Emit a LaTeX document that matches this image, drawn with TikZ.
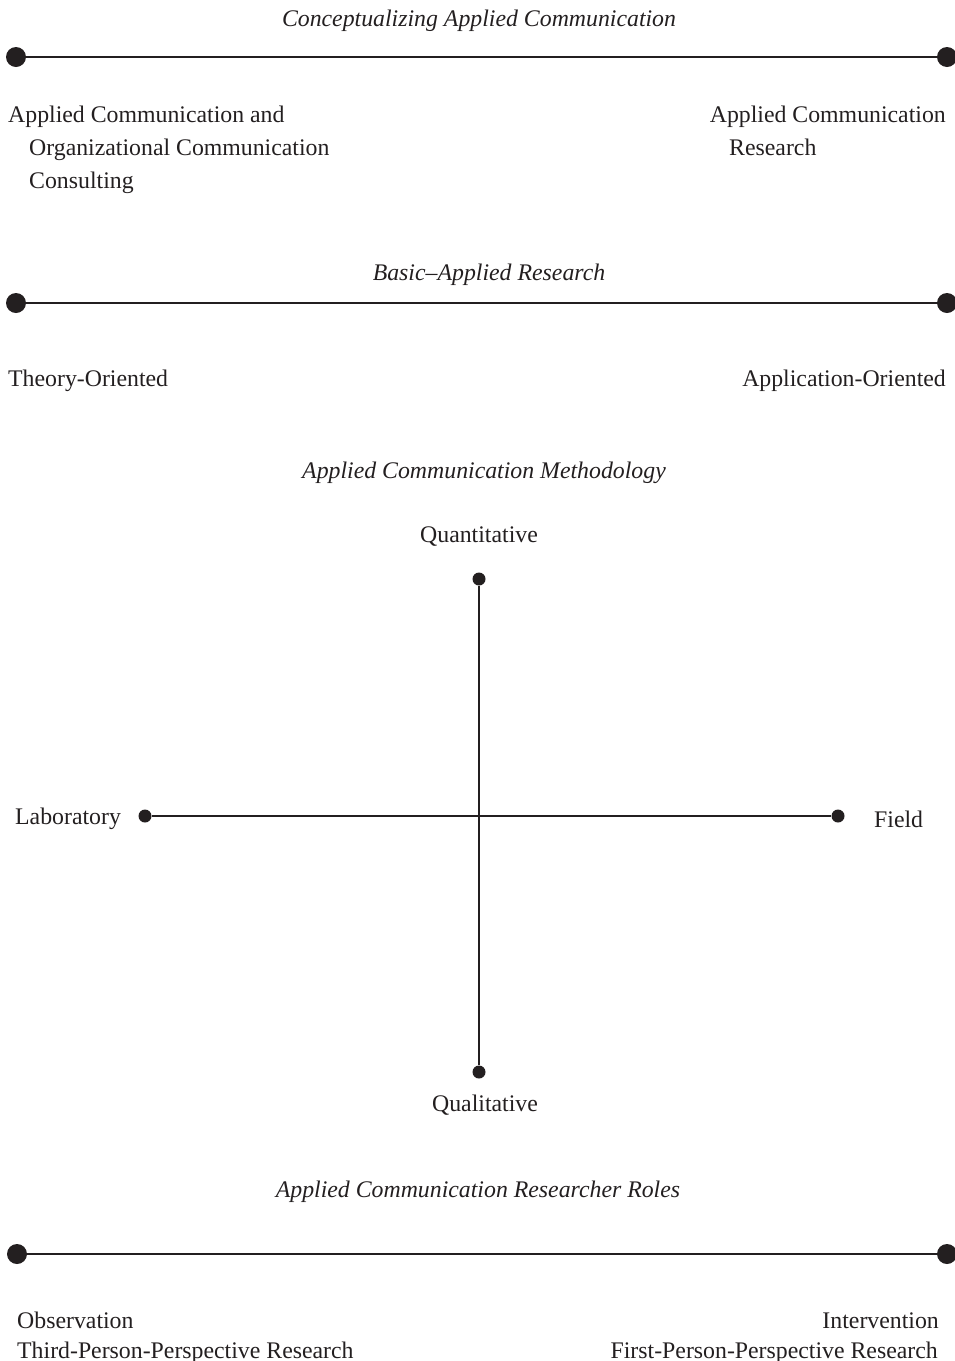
\documentclass[tikz,border=0pt]{standalone}
\usepackage{fontspec}
\setmainfont{Liberation Serif}
\definecolor{ink}{HTML}{231F20}
\begin{document}
\begin{tikzpicture}[x=1pt,y=-1pt,
  axis/.style={draw=ink,line width=2pt},
  bigdot/.style={circle,fill=ink,inner sep=0pt,minimum size=20pt},
  smalldot/.style={circle,fill=ink,inner sep=0pt,minimum size=13pt},
  lbl/.style={inner sep=0pt,text=ink,font=\fontsize{23.8}{33}\selectfont},
  heading/.style={lbl,font=\fontsize{23.8}{33}\selectfont\itshape}]
\useasboundingbox (0,0) rectangle (955,1361);

% --- Conceptualizing Applied Communication
\node[heading,anchor=base] (h1) at (479,26) {Conceptualizing Applied Communication};
\node[bigdot] (a1) at (16,57) {};
\node[bigdot] (b1) at (947,57) {};
\draw[axis] (a1) -- (b1);
\node[lbl,anchor=base west] (l1a) at (8,122) {Applied Communication and};
\node[lbl,anchor=base west] (l1b) at (29,155) {Organizational Communication};
\node[lbl,anchor=base west] (l1c) at (29,188) {Consulting};
\node[lbl,anchor=base east] (r1a) at (946,122) {Applied Communication};
\node[lbl,anchor=base west] (r1b) at (729,155) {Research};

% --- Basic-Applied Research
\node[heading,anchor=base] (h2) at (489,280) {Basic–Applied Research};
\node[bigdot] (a2) at (16,303) {};
\node[bigdot] (b2) at (947,303) {};
\draw[axis] (a2) -- (b2);
\node[lbl,anchor=base west] (l2) at (8,386) {Theory-Oriented};
\node[lbl,anchor=base east] (r2) at (946,386) {Application-Oriented};

% --- Applied Communication Methodology
\node[heading,anchor=base] (h3) at (484,478) {Applied Communication Methodology};
\node[lbl,anchor=base] (qn) at (479,542) {Quantitative};
\node[smalldot] (top) at (479,579) {};
\node[smalldot] (bot) at (479,1072) {};
\node[smalldot] (lft) at (145,816) {};
\node[smalldot] (rgt) at (838,816) {};
\draw[axis] (top) -- (bot);
\draw[axis] (lft) -- (rgt);
\node[lbl,anchor=base west] (lab) at (15,824) {Laboratory};
\node[lbl,anchor=base west] (fld) at (874,827) {Field};
\node[lbl,anchor=base] (ql) at (485,1111) {Qualitative};

% --- Applied Communication Researcher Roles
\node[heading,anchor=base] (h4) at (478,1197) {Applied Communication Researcher Roles};
\node[bigdot] (a4) at (17,1254) {};
\node[bigdot] (b4) at (947,1254) {};
\draw[axis] (a4) -- (b4);
\node[lbl,anchor=base west] (l4a) at (17,1328) {Observation};
\node[lbl,anchor=base west] (l4b) at (17,1358) {Third-Person-Perspective Research};
\node[lbl,anchor=base east] (r4a) at (939,1328) {Intervention};
\node[lbl,anchor=base east] (r4b) at (938,1358) {First-Person-Perspective Research};
\end{tikzpicture}
\end{document}
